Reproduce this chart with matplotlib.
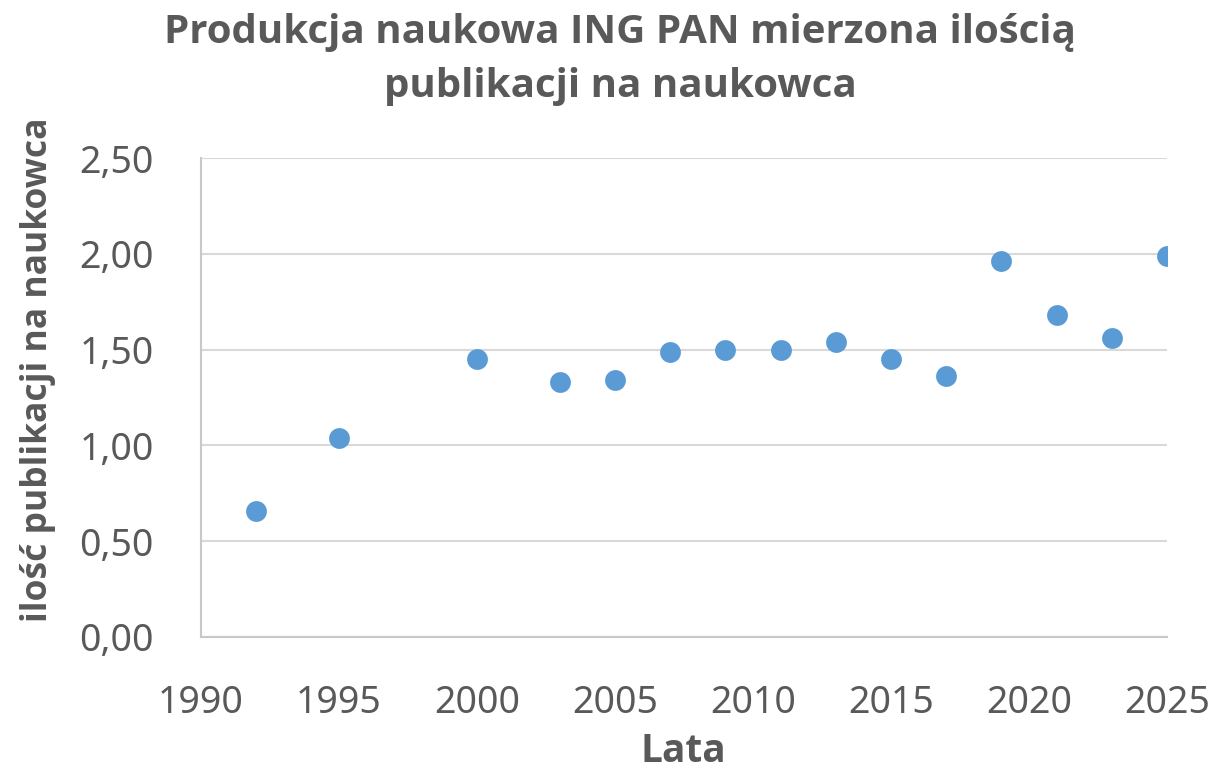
import matplotlib
matplotlib.use('Agg')
import matplotlib.pyplot as plt
from matplotlib.ticker import FuncFormatter, MultipleLocator

years = [1992, 1995, 2000, 2003, 2005, 2007, 2009, 2011, 2013, 2015, 2017, 2019, 2021, 2023, 2025]
pubs_per_scientist = [0.66, 1.04, 1.45, 1.33, 1.34, 1.49, 1.50, 1.50, 1.54, 1.45, 1.36, 1.96, 1.68, 1.56, 1.99]

title = 'Produkcja naukowa ING PAN mierzona ilością\npublikacji na naukowca'
xlabel = 'Lata'
ylabel = 'ilość publikacji na naukowca'

# regular text in Noto Sans, bold labels in Open Sans (has a real bold face)
plt.rcParams['font.family'] = ['Noto Sans', 'DejaVu Sans']
bold_fam = ['Open Sans', 'DejaVu Sans']
txt = '#595959'
grid = '#d9d9d9'

W, H = 1217, 772
fig = plt.figure(figsize=(W / 100, H / 100), dpi=100)
ax = fig.add_axes([201 / W, 1 - 637 / H, (1167 - 201) / W, (637 - 158) / H])

ax.plot(years, pubs_per_scientist, 'o', ms=15, color='#5b9bd5', mec='none', zorder=3)

ax.set_xlim(1990, 2025)
ax.set_ylim(0, 2.5)
ax.xaxis.set_major_locator(MultipleLocator(5))
ax.yaxis.set_major_locator(MultipleLocator(0.5))
ax.yaxis.set_major_formatter(FuncFormatter(lambda v, p: f'{v:.2f}'.replace('.', ',')))

ax.grid(axis='y', color=grid, lw=1.5)
ax.set_axisbelow(True)
for s in ['top', 'right']:
    ax.spines[s].set_visible(False)
for s in ['left', 'bottom']:
    ax.spines[s].set_color('#c8c8c8')
    ax.spines[s].set_linewidth(1.5)
ax.tick_params(length=0, labelsize=27, labelcolor=txt)
ax.tick_params(axis='x', pad=34)
ax.tick_params(axis='y', pad=34)

fig.text(620 / W, 1 - 13 / H, title, ha='center', va='top', fontsize=29,
         fontweight='bold', color=txt, linespacing=1.5, family=bold_fam)
fig.text(683 / W, 1 - 752 / H, xlabel, ha='center', va='center', fontsize=28,
         fontweight='bold', color=txt, family=bold_fam)
fig.text(38 / W, 1 - 370 / H, ylabel, ha='center', va='center', rotation=90,
         fontsize=25.5, fontweight='bold', color=txt, family=bold_fam)

fig.savefig('out.png', dpi=100)
